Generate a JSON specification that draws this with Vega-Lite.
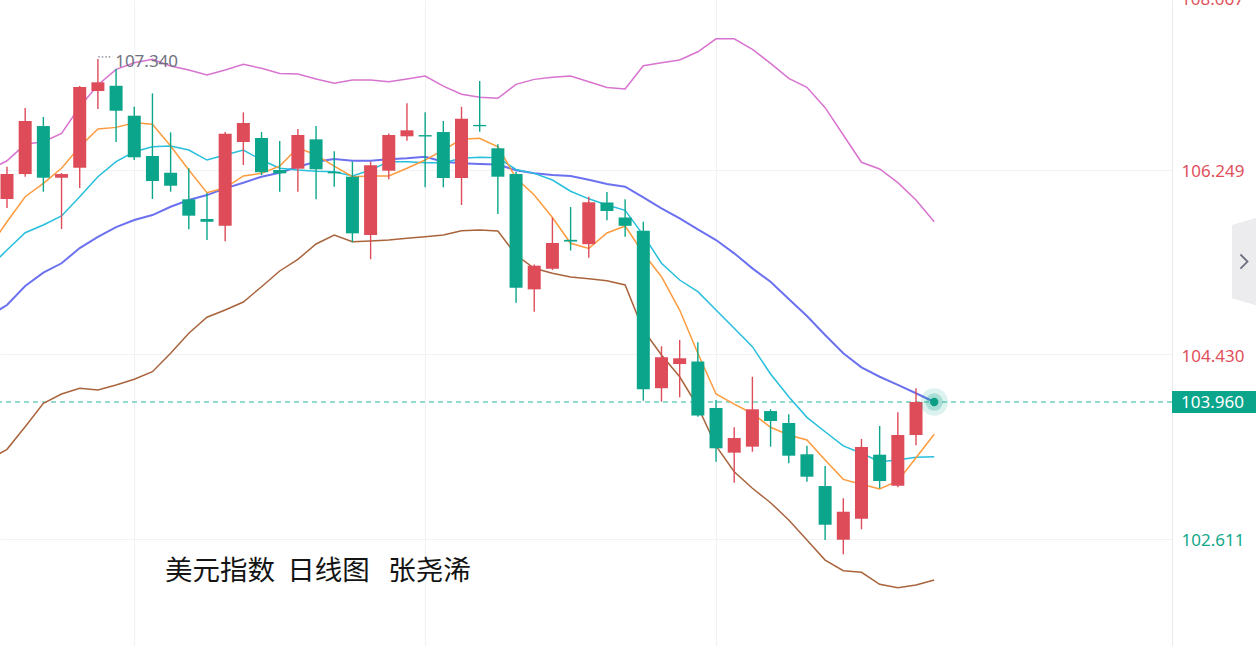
{
  "$schema": "https://vega.github.io/schema/vega-lite/v6.json",
  "width": 1172,
  "height": 646,
  "autosize": {"type": "none"},
  "padding": {"left": 0, "top": 0, "right": 84, "bottom": 0},
  "background": "#ffffff",
  "config": {
    "view": {"stroke": null},
    "font": "Noto Sans"
  },
  "resolve": {"axis": {"x": "independent", "y": "independent"}},
  "datasets": {
    "candles": [
      {"i":0,"o":105.960,"h":106.278,"l":105.871,"c":106.206},
      {"i":1,"o":106.206,"h":106.857,"l":106.180,"c":106.729},
      {"i":2,"o":106.679,"h":106.768,"l":106.032,"c":106.170},
      {"i":3,"o":106.170,"h":106.216,"l":105.664,"c":106.206},
      {"i":4,"o":106.268,"h":107.073,"l":106.068,"c":107.063},
      {"i":5,"o":107.024,"h":107.340,"l":106.847,"c":107.110},
      {"i":6,"o":107.076,"h":107.241,"l":106.522,"c":106.830},
      {"i":7,"o":106.781,"h":106.869,"l":106.344,"c":106.371},
      {"i":8,"o":106.384,"h":107.001,"l":105.960,"c":106.137},
      {"i":9,"o":106.219,"h":106.617,"l":106.032,"c":106.091},
      {"i":10,"o":105.957,"h":106.263,"l":105.662,"c":105.796},
      {"i":11,"o":105.763,"h":106.019,"l":105.556,"c":105.736},
      {"i":12,"o":105.697,"h":106.620,"l":105.543,"c":106.603},
      {"i":13,"o":106.522,"h":106.814,"l":106.295,"c":106.709},
      {"i":14,"o":106.561,"h":106.620,"l":106.197,"c":106.223},
      {"i":15,"o":106.246,"h":106.531,"l":106.032,"c":106.213},
      {"i":16,"o":106.259,"h":106.650,"l":106.032,"c":106.591},
      {"i":17,"o":106.548,"h":106.679,"l":105.957,"c":106.253},
      {"i":18,"o":106.229,"h":106.430,"l":106.081,"c":106.213},
      {"i":19,"o":106.180,"h":106.328,"l":105.533,"c":105.622},
      {"i":20,"o":105.605,"h":106.328,"l":105.366,"c":106.292},
      {"i":21,"o":106.239,"h":106.605,"l":106.154,"c":106.591},
      {"i":22,"o":106.578,"h":106.903,"l":106.534,"c":106.637},
      {"i":23,"o":106.590,"h":106.814,"l":106.075,"c":106.576},
      {"i":24,"o":106.620,"h":106.729,"l":106.075,"c":106.167},
      {"i":25,"o":106.167,"h":106.869,"l":105.901,"c":106.751},
      {"i":26,"o":106.690,"h":107.123,"l":106.623,"c":106.677},
      {"i":27,"o":106.460,"h":106.499,"l":105.812,"c":106.180},
      {"i":28,"o":106.206,"h":106.229,"l":104.938,"c":105.086},
      {"i":29,"o":105.070,"h":105.315,"l":104.850,"c":105.303},
      {"i":30,"o":105.273,"h":105.776,"l":105.261,"c":105.527},
      {"i":31,"o":105.558,"h":105.881,"l":105.453,"c":105.541},
      {"i":32,"o":105.515,"h":105.982,"l":105.382,"c":105.928},
      {"i":33,"o":105.926,"h":106.029,"l":105.750,"c":105.842},
      {"i":34,"o":105.778,"h":105.957,"l":105.588,"c":105.696},
      {"i":35,"o":105.647,"h":105.736,"l":103.973,"c":104.085},
      {"i":36,"o":104.096,"h":104.509,"l":103.963,"c":104.401},
      {"i":37,"o":104.334,"h":104.571,"l":104.006,"c":104.391},
      {"i":38,"o":104.359,"h":104.549,"l":103.815,"c":103.827},
      {"i":39,"o":103.901,"h":103.980,"l":103.372,"c":103.504},
      {"i":40,"o":103.461,"h":103.711,"l":103.165,"c":103.605},
      {"i":41,"o":103.520,"h":104.209,"l":103.470,"c":103.888},
      {"i":42,"o":103.871,"h":103.888,"l":103.520,"c":103.773},
      {"i":43,"o":103.753,"h":103.839,"l":103.356,"c":103.431},
      {"i":44,"o":103.445,"h":103.530,"l":103.175,"c":103.224},
      {"i":45,"o":103.132,"h":103.330,"l":102.600,"c":102.751},
      {"i":46,"o":102.603,"h":103.011,"l":102.460,"c":102.879},
      {"i":47,"o":102.810,"h":103.596,"l":102.706,"c":103.517},
      {"i":48,"o":103.441,"h":103.724,"l":103.110,"c":103.182},
      {"i":49,"o":103.135,"h":103.859,"l":103.120,"c":103.635},
      {"i":50,"o":103.635,"h":104.095,"l":103.533,"c":103.960}
    ],
    "lines": [
      {"i":-1,"m5":105.477,"m10":105.280,"m20":104.807,"up":106.246,"dn":103.389},
      {"i":0,"m5":105.736,"m10":105.458,"m20":104.916,"up":106.337,"dn":103.494},
      {"i":1,"m5":105.983,"m10":105.628,"m20":105.103,"up":106.499,"dn":103.717},
      {"i":2,"m5":106.115,"m10":105.704,"m20":105.234,"up":106.525,"dn":103.947},
      {"i":3,"m5":106.263,"m10":105.793,"m20":105.327,"up":106.607,"dn":104.039},
      {"i":4,"m5":106.475,"m10":105.983,"m20":105.477,"up":106.869,"dn":104.095},
      {"i":5,"m5":106.650,"m10":106.180,"m20":105.586,"up":107.083,"dn":104.078},
      {"i":6,"m5":106.666,"m10":106.328,"m20":105.684,"up":107.238,"dn":104.128},
      {"i":7,"m5":106.712,"m10":106.426,"m20":105.753,"up":107.303,"dn":104.184},
      {"i":8,"m5":106.696,"m10":106.475,"m20":105.802,"up":107.336,"dn":104.259},
      {"i":9,"m5":106.482,"m10":106.482,"m20":105.884,"up":107.270,"dn":104.440},
      {"i":10,"m5":106.246,"m10":106.443,"m20":105.950,"up":107.231,"dn":104.637},
      {"i":11,"m5":106.022,"m10":106.344,"m20":105.999,"up":107.182,"dn":104.795},
      {"i":12,"m5":106.071,"m10":106.394,"m20":106.065,"up":107.231,"dn":104.866},
      {"i":13,"m5":106.187,"m10":106.443,"m20":106.121,"up":107.287,"dn":104.945},
      {"i":14,"m5":106.213,"m10":106.344,"m20":106.180,"up":107.248,"dn":105.096},
      {"i":15,"m5":106.285,"m10":106.263,"m20":106.219,"up":107.198,"dn":105.251},
      {"i":16,"m5":106.465,"m10":106.246,"m20":106.278,"up":107.192,"dn":105.366},
      {"i":17,"m5":106.394,"m10":106.233,"m20":106.328,"up":107.142,"dn":105.517},
      {"i":18,"m5":106.285,"m10":106.229,"m20":106.354,"up":107.100,"dn":105.605},
      {"i":19,"m5":106.180,"m10":106.187,"m20":106.337,"up":107.132,"dn":105.539},
      {"i":20,"m5":106.187,"m10":106.246,"m20":106.337,"up":107.132,"dn":105.546},
      {"i":21,"m5":106.187,"m10":106.328,"m20":106.351,"up":107.116,"dn":105.556},
      {"i":22,"m5":106.263,"m10":106.328,"m20":106.361,"up":107.142,"dn":105.573},
      {"i":23,"m5":106.344,"m10":106.318,"m20":106.377,"up":107.172,"dn":105.589},
      {"i":24,"m5":106.443,"m10":106.318,"m20":106.328,"up":107.073,"dn":105.605},
      {"i":25,"m5":106.548,"m10":106.361,"m20":106.312,"up":106.992,"dn":105.648},
      {"i":26,"m5":106.558,"m10":106.371,"m20":106.305,"up":106.962,"dn":105.655},
      {"i":27,"m5":106.475,"m10":106.366,"m20":106.300,"up":106.952,"dn":105.645},
      {"i":28,"m5":106.167,"m10":106.251,"m20":106.243,"up":107.090,"dn":105.408},
      {"i":29,"m5":105.999,"m10":106.213,"m20":106.213,"up":107.139,"dn":105.277},
      {"i":30,"m5":105.778,"m10":106.147,"m20":106.197,"up":107.159,"dn":105.228},
      {"i":31,"m5":105.524,"m10":106.037,"m20":106.187,"up":107.172,"dn":105.192},
      {"i":32,"m5":105.474,"m10":105.962,"m20":106.150,"up":107.116,"dn":105.175},
      {"i":33,"m5":105.625,"m10":105.901,"m20":106.108,"up":107.059,"dn":105.155},
      {"i":34,"m5":105.694,"m10":105.849,"m20":106.081,"up":107.044,"dn":105.113},
      {"i":35,"m5":105.425,"m10":105.605,"m20":105.977,"up":107.273,"dn":104.669},
      {"i":36,"m5":105.195,"m10":105.327,"m20":105.868,"up":107.303,"dn":104.423},
      {"i":37,"m5":104.866,"m10":105.162,"m20":105.770,"up":107.330,"dn":104.209},
      {"i":38,"m5":104.440,"m10":105.047,"m20":105.660,"up":107.411,"dn":103.914},
      {"i":39,"m5":104.039,"m10":104.866,"m20":105.556,"up":107.539,"dn":103.527},
      {"i":40,"m5":103.940,"m10":104.686,"m20":105.425,"up":107.539,"dn":103.273},
      {"i":41,"m5":103.847,"m10":104.505,"m20":105.277,"up":107.435,"dn":103.110},
      {"i":42,"m5":103.711,"m10":104.236,"m20":105.145,"up":107.297,"dn":102.968},
      {"i":43,"m5":103.635,"m10":104.012,"m20":104.975,"up":107.149,"dn":102.797},
      {"i":44,"m5":103.586,"m10":103.809,"m20":104.807,"up":107.061,"dn":102.600},
      {"i":45,"m5":103.389,"m10":103.667,"m20":104.620,"up":106.860,"dn":102.403},
      {"i":46,"m5":103.198,"m10":103.527,"m20":104.440,"up":106.591,"dn":102.298},
      {"i":47,"m5":103.149,"m10":103.455,"m20":104.302,"up":106.322,"dn":102.282},
      {"i":48,"m5":103.103,"m10":103.372,"m20":104.209,"up":106.256,"dn":102.164},
      {"i":49,"m5":103.182,"m10":103.389,"m20":104.128,"up":106.121,"dn":102.130},
      {"i":50,"m5":103.411,"m10":103.415,"m20":104.046,"up":105.950,"dn":102.157},
      {"i":51,"m5":103.642,"m10":103.421,"m20":103.960,"up":105.736,"dn":102.206}
    ],
    "price": [{"p": 103.960}]
  },
  "layer": [
    {
      "data": {"name": "price"},
      "mark": {"type": "rule", "stroke": "#2ab79b", "strokeWidth": 1, "strokeDash": [5, 4]},
      "encoding": {
        "y": {"field": "p", "type": "quantitative",
          "scale": {"domain": [101.556, 107.921], "nice": false, "zero": false},
          "axis": {
            "orient": "right", "values": [102.611, 104.430, 106.249],
            "title": null, "ticks": false, "domain": true, "domainColor": "#e9e9ef", "domainWidth": 1,
            "grid": true, "gridColor": "#f2f2f5", "gridWidth": 1,
            "labelPadding": 9, "labelFontSize": 17, "labelFont": "Noto Sans", "labelOffset": 2,
            "labelAlign": "left",
            "labelColor": {"condition": {"test": "datum.value > 103.96", "value": "#e0505c"}, "value": "#13a88b"},
            "format": ".3f"
          }
        }
      }
    },
    {
      "data": {"name": "lines"},
      "mark": {"type": "line", "stroke": "#d873cf", "strokeWidth": 1.5, "clip": true},
      "encoding": {
        "x": {"field": "i", "type": "quantitative",
          "scale": {"domain": [-0.385, 64.08], "nice": false, "zero": false, "padding": 0},
          "axis": {"values": [7, 23, 39], "grid": true, "gridColor": "#f2f2f5", "gridWidth": 1.2,
            "labels": false, "ticks": false, "domain": false, "title": null}},
        "y": {"field": "up", "type": "quantitative", "axis": null}
      }
    },
    {
      "data": {"name": "lines"},
      "mark": {"type": "line", "stroke": "#a9643c", "strokeWidth": 1.5, "clip": true},
      "encoding": {
        "x": {"field": "i", "type": "quantitative", "axis": null},
        "y": {"field": "dn", "type": "quantitative", "axis": null}
      }
    },
    {
      "data": {"name": "lines"},
      "mark": {"type": "line", "stroke": "#6b71ef", "strokeWidth": 2, "clip": true},
      "encoding": {
        "x": {"field": "i", "type": "quantitative", "axis": null},
        "y": {"field": "m20", "type": "quantitative", "axis": null}
      }
    },
    {
      "data": {"name": "lines"},
      "mark": {"type": "line", "stroke": "#27bfdc", "strokeWidth": 1.5, "clip": true},
      "encoding": {
        "x": {"field": "i", "type": "quantitative", "axis": null},
        "y": {"field": "m10", "type": "quantitative", "axis": null}
      }
    },
    {
      "data": {"name": "lines"},
      "mark": {"type": "line", "stroke": "#fd9b3e", "strokeWidth": 1.5, "clip": true},
      "encoding": {
        "x": {"field": "i", "type": "quantitative", "axis": null},
        "y": {"field": "m5", "type": "quantitative", "axis": null}
      }
    },
    {
      "data": {"name": "candles"},
      "mark": {"type": "rule", "strokeWidth": 1.4},
      "encoding": {
        "x": {"field": "i", "type": "quantitative", "axis": null},
        "y": {"field": "l", "type": "quantitative", "axis": null},
        "y2": {"field": "h"},
        "color": {"condition": {"test": "datum.c >= datum.o", "value": "#de4b59"}, "value": "#0aa58a"}
      }
    },
    {
      "data": {"name": "candles"},
      "mark": {"type": "bar", "width": 13},
      "encoding": {
        "x": {"field": "i", "type": "quantitative", "axis": null},
        "y": {"field": "o", "type": "quantitative", "axis": null},
        "y2": {"field": "c"},
        "color": {"condition": {"test": "datum.c >= datum.o", "value": "#de4b59"}, "value": "#0aa58a"}
      }
    },
    {
      "data": {"name": "price"},
      "mark": {"type": "rule", "stroke": "#7a7c88", "strokeWidth": 1.2, "strokeDash": [1.5, 2]},
      "encoding": {
        "x": {"datum": 5.02, "type": "quantitative", "axis": null},
        "x2": {"datum": 5.8},
        "y": {"datum": 107.36, "type": "quantitative", "axis": null}
      }
    },
    {
      "data": {"name": "price"},
      "mark": {"type": "text", "text": "107.340", "align": "left", "baseline": "middle", "fontSize": 17, "color": "#6f7280", "font": "Noto Sans"},
      "encoding": {
        "x": {"datum": 5.95, "type": "quantitative", "axis": null},
        "y": {"datum": 107.31, "type": "quantitative", "axis": null}
      }
    },
    {
      "data": {"name": "price"},
      "mark": {"type": "point", "shape": "circle", "filled": true, "size": 760, "color": "#0aa58a", "opacity": 0.14},
      "encoding": {
        "x": {"datum": 51, "type": "quantitative", "axis": null},
        "y": {"field": "p", "type": "quantitative", "axis": null}
      }
    },
    {
      "data": {"name": "price"},
      "mark": {"type": "point", "shape": "circle", "filled": true, "size": 300, "color": "#0aa58a", "opacity": 0.25},
      "encoding": {
        "x": {"datum": 51, "type": "quantitative", "axis": null},
        "y": {"field": "p", "type": "quantitative", "axis": null}
      }
    },
    {
      "data": {"name": "price"},
      "mark": {"type": "point", "shape": "circle", "filled": true, "size": 70, "color": "#0a9f85", "opacity": 1},
      "encoding": {
        "x": {"datum": 51, "type": "quantitative", "axis": null},
        "y": {"field": "p", "type": "quantitative", "axis": null}
      }
    },
    {
      "data": {"name": "price"},
      "mark": {"type": "rule", "stroke": "#0aa58a", "strokeWidth": 22},
      "encoding": {
        "x": {"datum": 64.08, "type": "quantitative", "axis": null},
        "x2": {"datum": 68.8},
        "y": {"field": "p", "type": "quantitative", "axis": null}
      }
    },
    {
      "data": {"name": "price"},
      "mark": {"type": "text", "align": "left", "baseline": "middle", "dx": 9, "dy": 1, "fontSize": 17, "color": "#ffffff", "font": "Noto Sans"},
      "encoding": {
        "x": {"datum": 64.08, "type": "quantitative", "axis": null},
        "y": {"field": "p", "type": "quantitative", "axis": null},
        "text": {"field": "p", "format": ".3f"}
      }
    },
    {
      "data": {"name": "price"},
      "mark": {"type": "text", "text": "108.067", "align": "left", "baseline": "middle", "dx": 9, "fontSize": 17, "color": "#e0505c", "font": "Noto Sans"},
      "encoding": {
        "x": {"datum": 64.08, "type": "quantitative", "axis": null},
        "y": {"datum": 107.921, "type": "quantitative", "axis": null}
      }
    },
    {
      "data": {"name": "price"},
      "mark": {"type": "point", "shape": "M -0.32 -0.78 L 0.4 -0.99 L 0.4 0.99 L -0.32 0.78 Z", "filled": true, "size": 8836, "color": "#ececef", "opacity": 1, "strokeWidth": 0},
      "encoding": {
        "x": {"datum": 68.21, "type": "quantitative", "axis": null},
        "y": {"datum": 105.344, "type": "quantitative", "axis": null}
      }
    },
    {
      "data": {"name": "price"},
      "mark": {"type": "point", "shape": "M -0.3 -0.6 L 0.3 0 L -0.3 0.6", "filled": false, "size": 550, "stroke": "#6c6f7d", "strokeWidth": 1.8, "opacity": 1},
      "encoding": {
        "x": {"datum": 68.04, "type": "quantitative", "axis": null},
        "y": {"datum": 105.344, "type": "quantitative", "axis": null}
      }
    },
    {
      "data": {"name": "price"},
      "mark": {"type": "text", "text": "美元指数\u00a0\u00a0日线图\u00a0\u00a0\u00a0张尧浠", "align": "left", "baseline": "middle", "fontSize": 27.5, "color": "#141414", "font": "Noto Sans CJK SC"},
      "encoding": {
        "x": {"datum": 8.69, "type": "quantitative", "axis": null},
        "y": {"datum": 102.285, "type": "quantitative", "axis": null}
      }
    }
  ]
}
